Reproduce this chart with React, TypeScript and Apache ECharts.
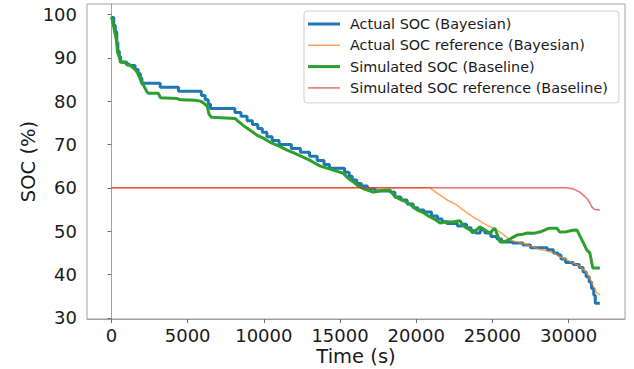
import React, { useEffect, useRef } from "react";
import * as echarts from "echarts";

const seriesNames = [
  "Actual SOC (Bayesian)",
  "Actual SOC reference (Bayesian)",
  "Simulated SOC (Baseline)",
  "Simulated SOC reference (Baseline)",
];

const xTicks = [0, 5000, 10000, 15000, 20000, 25000, 30000];
const yTicks = [30, 40, 50, 60, 70, 80, 90, 100];

// Actual SOC (Bayesian): step breakpoints [time s, SOC %]
const actualSoc: [number, number][] = [
  [0, 99.3], [150, 97.5], [250, 96.0], [350, 93.5], [420, 91.5], [520, 90.3],
  [600, 89.0], [1000, 88.5], [1200, 88.2], [1550, 87.3], [1750, 86.3], [1900, 85.3],
  [2000, 84.1], [3200, 83.2], [4400, 82.3], [5900, 81.3], [6150, 80.3], [6350, 79.3],
  [6500, 78.3], [8100, 77.4], [8500, 76.5], [8900, 75.5], [9250, 74.6], [9600, 73.7],
  [9900, 72.8], [10200, 71.8], [10550, 70.9], [11000, 70.0], [11800, 69.1], [12400, 68.2],
  [13000, 67.3], [13500, 66.3], [13950, 65.4], [14300, 64.5], [15300, 63.6], [15600, 62.7],
  [15800, 61.8], [16100, 61.0], [16400, 60.4], [16800, 59.8], [17300, 59.3], [18300, 59.0],
  [18600, 57.9], [19000, 57.2], [19400, 56.3], [19800, 55.4], [20100, 54.9], [20500, 54.4],
  [21000, 53.5], [21400, 52.8], [21700, 52.2], [22000, 51.8], [22700, 51.2], [23000, 51.6],
  [23300, 50.8], [23600, 50.1], [23900, 49.6], [24200, 50.3], [24500, 49.6], [24900, 48.8],
  [25300, 48.2], [25600, 47.5], [26300, 47.3], [27000, 46.8], [27500, 46.2], [28600, 45.7],
  [29000, 45.0], [29300, 44.5], [29500, 43.6], [29800, 42.8], [30300, 42.3], [30700, 41.6],
  [30950, 40.6], [31150, 39.5], [31350, 38.3], [31500, 36.8], [31650, 35.2], [31750, 33.4],
  [32050, 33.4],
];

// Actual SOC reference (Bayesian)
const actualRef: [number, number][] = [
  [0, 60.0], [20900, 60.0], [21360, 58.8], [22020, 57.2], [22600, 56.2], [23070, 54.9],
  [23720, 53.3], [24200, 52.3], [24640, 51.4], [25030, 50.7], [25300, 50.2], [25700, 49.3],
  [26150, 48.0], [26900, 47.2], [27650, 46.4], [28110, 45.8], [28600, 45.4], [29030, 45.0],
  [29420, 44.1], [29880, 43.4], [30280, 42.7], [30700, 42.0], [30930, 41.3], [31200, 40.3],
  [31400, 39.0], [31520, 38.1], [31700, 36.8], [31850, 35.8], [32050, 35.3],
];

// Simulated SOC (Baseline)
const simSoc: [number, number][] = [
  [0, 99.4], [130, 97.5], [200, 96.2], [330, 94.0], [400, 91.2], [500, 90.3],
  [590, 89.0], [900, 88.9], [1050, 88.3], [1250, 88.2], [1570, 87.2], [1700, 86.6],
  [1900, 85.0], [2000, 84.0], [2100, 83.7], [2300, 82.3], [2420, 81.8], [3080, 81.8],
  [3210, 80.8], [4320, 80.6], [4520, 80.3], [5500, 80.2], [5830, 80.0], [6030, 79.6],
  [6290, 78.8], [6400, 77.0], [6550, 76.3], [8120, 76.0], [8260, 75.5], [8650, 74.4],
  [9100, 73.3], [9570, 72.1], [10000, 71.4], [10420, 70.5], [11000, 69.6], [11530, 68.7],
  [12000, 68.0], [12580, 67.1], [13100, 66.2], [13700, 65.0], [14100, 64.6], [14550, 64.1],
  [15200, 63.4], [15530, 62.2], [15900, 61.3], [16120, 60.6], [16600, 59.7], [17170, 59.0],
  [17700, 59.4], [18280, 59.5], [18610, 57.9], [19000, 57.3], [19400, 56.7], [19700, 55.9],
  [20050, 54.9], [20500, 54.2], [20900, 53.3], [21200, 52.8], [21560, 51.9], [22000, 52.2],
  [22410, 52.1], [22870, 52.4], [23100, 51.2], [23330, 50.7], [23530, 50.3], [23720, 49.6],
  [24180, 51.0], [24400, 50.5], [24840, 49.6], [25030, 50.3], [25160, 50.7], [25500, 47.5],
  [25800, 47.6], [26150, 48.2], [26600, 49.1], [27000, 49.3], [27300, 49.6], [27700, 49.5],
  [28110, 49.8], [28570, 50.5], [28770, 50.7], [29230, 50.7], [29420, 49.8], [29880, 49.9],
  [30270, 50.2], [30540, 50.3], [30870, 48.0], [31190, 45.7], [31390, 45.0], [31520, 42.7],
  [31590, 41.5], [32050, 41.5],
];

// Simulated SOC reference (Baseline)
const simRef: [number, number][] = [
  [0, 60.0], [29800, 60.0], [30080, 59.9], [30400, 59.6], [30730, 59.0], [31000, 58.2],
  [31190, 57.6], [31400, 56.5], [31520, 55.6], [31700, 55.0], [32050, 54.9],
];

const FONT = "DejaVu Sans";
const THICK_ICON = "path://M0,0 H32 V3 H0 Z";
const THIN_ICON = "path://M0,0 H32 V1.5 H0 Z";

export default function App() {
  const ref = useRef<HTMLDivElement>(null);
  useEffect(() => {
    if (!ref.current) return;
    const chart = echarts.init(ref.current, undefined, { renderer: "svg" });
    chart.setOption({
      animation: false,
      backgroundColor: "#ffffff",
      grid: {
        left: 87,
        right: 9,
        top: 4,
        bottom: 50,
        show: true,
        outerBoundsMode: "none",
        containLabel: false,
        borderColor: "#a0a0a0",
        borderWidth: 1,
        backgroundColor: "transparent",
      },
      legend: {
        orient: "vertical",
        left: 304,
        top: 11,
        itemWidth: 32,
        itemHeight: 16,
        itemGap: 7.3,
        symbolKeepAspect: true,
        padding: [6, 11, 8, 4],
        backgroundColor: "rgba(255,255,255,0.85)",
        borderColor: "#d0d0d0",
        borderWidth: 1,
        borderRadius: 3,
        textStyle: { fontFamily: FONT, fontSize: 14.4, color: "#1a1a1a", padding: [0, 0, 0, 5] },
        data: [
          { name: seriesNames[0], icon: THICK_ICON },
          { name: seriesNames[1], icon: THIN_ICON },
          { name: seriesNames[2], icon: THICK_ICON },
          { name: seriesNames[3], icon: THIN_ICON },
        ],
      },
      xAxis: {
        type: "value",
        min: -1605,
        max: 33700,
        name: "Time (s)",
        nameLocation: "middle",
        nameGap: 27,
        nameMoveOverlap: false,
        nameTextStyle: { fontFamily: FONT, fontSize: 19.5, color: "#1a1a1a" },
        splitLine: { show: false },
        axisLine: { show: true, lineStyle: { color: "#a0a0a0", width: 1 } },
        axisTick: { show: true, length: 4, lineStyle: { color: "#707070" }, customValues: xTicks },
        axisLabel: {
          fontFamily: FONT,
          fontSize: 18,
          color: "#1a1a1a",
          margin: 7,
          customValues: xTicks,
          formatter: (v: number) => String(v),
        },
      },
      yAxis: {
        type: "value",
        min: 29.75,
        max: 102.4,
        name: "SOC (%)",
        nameLocation: "middle",
        nameGap: 49,
        nameMoveOverlap: false,
        nameTextStyle: { fontFamily: FONT, fontSize: 19.5, color: "#1a1a1a" },
        splitLine: { show: false },
        axisLine: { show: true, lineStyle: { color: "#a0a0a0", width: 1 } },
        axisTick: { show: true, length: 4, lineStyle: { color: "#707070" }, customValues: yTicks },
        axisLabel: {
          fontFamily: FONT,
          fontSize: 18,
          color: "#1a1a1a",
          margin: 10,
          customValues: yTicks,
          formatter: (v: number) => String(v),
        },
      },
      series: [
        {
          name: seriesNames[0],
          type: "line",
          data: actualSoc,
          step: "end",
          symbol: "none",
          z: 2,
          color: "#1f77b4",
          lineStyle: { color: "#1f77b4", width: 3 },
        },
        {
          name: seriesNames[1],
          type: "line",
          data: actualRef,
          symbol: "none",
          z: 3,
          color: "rgba(255,127,14,0.7)",
          lineStyle: { color: "rgba(255,127,14,0.7)", width: 1.5 },
        },
        {
          name: seriesNames[2],
          type: "line",
          data: simSoc,
          symbol: "none",
          z: 4,
          color: "#2ca02c",
          lineStyle: { color: "#2ca02c", width: 3 },
        },
        {
          name: seriesNames[3],
          type: "line",
          data: simRef,
          symbol: "none",
          z: 5,
          color: "rgba(214,39,40,0.65)",
          lineStyle: { color: "rgba(214,39,40,0.65)", width: 1.5 },
        },
      ],
    });
    return () => chart.dispose();
  }, []);
  return (
    <div
      ref={ref}
      style={{ position: "fixed", left: 0, top: 0, width: 634, height: 369, background: "#fff" }}
    />
  );
}
